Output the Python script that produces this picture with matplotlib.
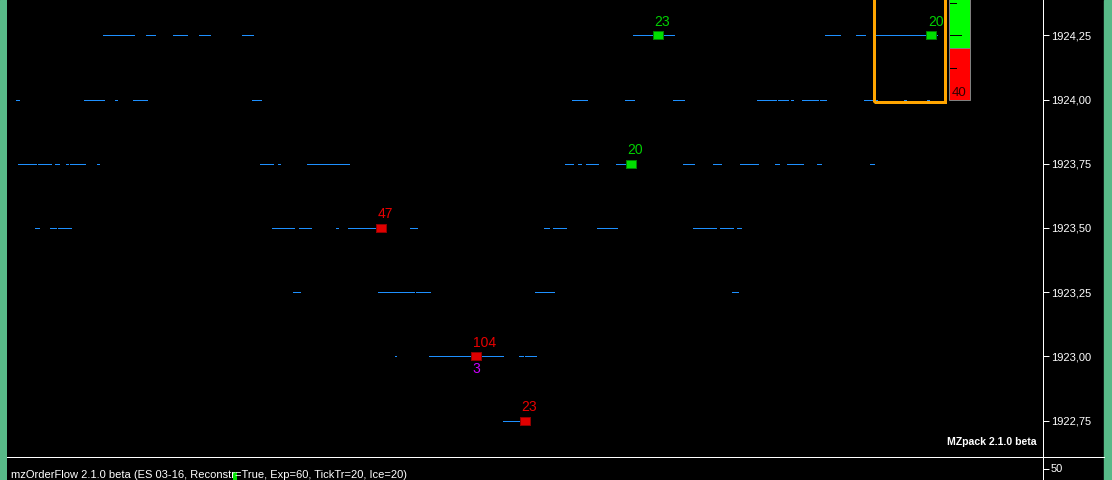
import matplotlib
matplotlib.use("Agg")
import matplotlib.pyplot as plt
from matplotlib import font_manager
from matplotlib.patches import Rectangle
from matplotlib.lines import Line2D

# ---------------- data ----------------
price_ticks = [1924.25, 1924.00, 1923.75, 1923.50, 1923.25, 1923.00, 1922.75]

# horizontal order-book segments (start, end) per price level, x in bar-position units
segs_192425 = [(103, 121), (122, 134), (146, 155), (173, 187), (199, 210), (242, 253),
               (633, 674), (825, 840), (856, 865), (876, 911), (912, 937)]
segs_192400 = [(16, 19), (84, 104), (115, 117), (133, 147), (252, 261), (572, 579),
               (580, 587), (625, 634), (673, 684), (757, 776), (778, 788), (791, 793),
               (802, 818), (820, 826), (864, 877), (904, 906), (927, 929)]
segs_192375 = [(18, 36), (38, 51), (55, 59), (66, 68), (70, 85), (97, 99), (260, 273),
               (278, 280), (307, 309), (310, 336), (337, 349), (565, 573), (578, 581),
               (586, 598), (616, 626), (683, 694), (713, 721), (740, 758), (775, 779),
               (787, 803), (817, 821), (870, 874)]
segs_192350 = [(35, 39), (50, 56), (58, 71), (272, 294), (299, 311), (336, 338),
               (348, 380), (410, 412), (413, 417), (544, 546), (547, 549), (553, 566),
               (597, 617), (693, 716), (720, 733), (737, 741)]
segs_192325 = [(293, 300), (378, 414), (416, 430), (535, 554), (732, 738)]
segs_192300 = [(395, 396), (429, 503), (519, 523), (525, 536)]
segs_192275 = [(503, 526)]
segment_rows = {
    1924.25: segs_192425, 1924.00: segs_192400, 1923.75: segs_192375,
    1923.50: segs_192350, 1923.25: segs_192325, 1923.00: segs_192300,
    1922.75: segs_192275,
}

# large trades: green = buy, red = sell
buy_x = [657.5, 630.5, 931.3]
buy_price = [1924.25, 1923.75, 1924.25]
buy_size = [23, 20, 20]
sell_x = [380.5, 475.5, 524.5]
sell_price = [1923.50, 1923.00, 1922.75]
sell_size = [47, 104, 23]
iceberg_x = [475.5]
iceberg_price = [1923.00]
iceberg_size = [3]

# highlight box and gauge
box_x = (873.5, 944.5)
box_price = (1923.992, 1924.6)
gauge_x = (949.3, 969.7)
gauge_bottom = 1924.00
gauge_split = 1924.203
gauge_top = 1924.6
gauge_marks = [1924.125, 1924.25, 1924.375]
gauge_label = "40"

# lower panel
lower_ticks = [50]
lower_bar_x = [235]
lower_bar_val = [36]

title_text = "mzOrderFlow 2.1.0 beta (ES 03-16, Reconstr=True, Exp=60, TickTr=20, Ice=20)"
brand_text = "MZpack 2.1.0 beta"

# ---------------- fonts ----------------
names = {f.name for f in font_manager.fontManager.ttflist}
base_font = 'Liberation Sans' if 'Liberation Sans' in names else 'DejaVu Sans'
narrow_font = 'Liberation Sans Narrow' if 'Liberation Sans Narrow' in names else base_font
plt.rcParams['font.family'] = [base_font, 'DejaVu Sans']

W, H = 1112, 480
PX = 72.0 / 100.0  # points per pixel


def px_rect(x0, y0, x1, y1):
    return [x0 / W, 1 - y1 / H, (x1 - x0) / W, (y1 - y0) / H]


fig = plt.figure(figsize=(W / 100, H / 100), dpi=100, facecolor='black')

# side borders
border_col = '#58ba88'
fig.add_artist(Rectangle((0, 0), 7 / W, 1, transform=fig.transFigure, color=border_col, zorder=0))
fig.add_artist(Rectangle((1104 / W, 0), 8 / W, 1, transform=fig.transFigure, color=border_col, zorder=0))

ax = fig.add_axes(px_rect(7, 0, 1043, 457))
ax.set_facecolor('black')
ax.set_xlim(7, 1043)
ax.set_ylim(1922.6078, 1924.3883)

blue = '#1e90ff'
for price, segs in segment_rows.items():
    ax.hlines([price] * len(segs), [s[0] for s in segs], [s[1] for s in segs],
              colors=blue, linewidth=1.0 * PX, antialiased=False, zorder=2)

# highlight box
ax.add_patch(Rectangle((box_x[0], box_price[0]), box_x[1] - box_x[0], box_price[1] - box_price[0],
                       fill=False, edgecolor='#ffa500', linewidth=3 * PX, zorder=3))

# gauge
gw = gauge_x[1] - gauge_x[0]
ax.bar([gauge_x[0]], [gauge_split - gauge_bottom], bottom=gauge_bottom, width=gw, align='edge',
       color='#ff0000', edgecolor='#808080', linewidth=1 * PX, zorder=3)
ax.bar([gauge_x[0]], [gauge_top - gauge_split], bottom=gauge_split, width=gw, align='edge',
       color='#00ff00', edgecolor='#808080', linewidth=1 * PX, zorder=3)
for i, m in enumerate(gauge_marks):
    ln = 11 if i == 1 else 6
    ax.hlines(m, gauge_x[0] + 0.7, gauge_x[0] + 0.7 + ln, colors='black', linewidth=1 * PX,
              antialiased=False, zorder=4)
ax.annotate(gauge_label, (gauge_x[0], gauge_bottom), xytext=(2.4 * PX, 6.5 * PX),
            textcoords='offset points', ha='left', va='center', fontsize=9.5,
            family=[narrow_font, 'DejaVu Sans'], color='#300000', zorder=5)

# rectangular marker
rect_marker = [(-0.5, -0.4), (0.5, -0.4), (0.5, 0.4), (-0.5, 0.4), (-0.5, -0.4)]
ax.plot(buy_x, buy_price, linestyle='none', marker=rect_marker, markersize=10.4 * PX,
        markerfacecolor='#00e000', markeredgecolor='#008000', markeredgewidth=1 * PX, zorder=5)
ax.plot(sell_x, sell_price, linestyle='none', marker=rect_marker, markersize=10.4 * PX,
        markerfacecolor='#e00000', markeredgecolor='#900000', markeredgewidth=1 * PX, zorder=5)

lab_font = [narrow_font, 'DejaVu Sans']
for x, p, s in zip(buy_x, buy_price, buy_size):
    ax.annotate(str(s), (x, p), xytext=(-3 * PX, 13.5 * PX), textcoords='offset points',
                ha='left', va='center', color='#00d000', fontsize=10, family=lab_font, zorder=6)
for x, p, s in zip(sell_x, sell_price, sell_size):
    ax.annotate(str(s), (x, p), xytext=(-3 * PX, 13.5 * PX), textcoords='offset points',
                ha='left', va='center', color='#e80000', fontsize=10, family=lab_font, zorder=6)
for x, p, s in zip(iceberg_x, iceberg_price, iceberg_size):
    ax.annotate(str(s), (x, p), xytext=(-3 * PX, -13 * PX), textcoords='offset points',
                ha='left', va='center', color='#cc00ff', fontsize=10, family=lab_font, zorder=6)

# brand text
ax.annotate(brand_text, (1, 0), xycoords='axes fraction', xytext=(-6.5 * PX, 15.3 * PX),
            textcoords='offset points', ha='right', va='center', color='white',
            fontsize=7.6, fontweight='bold')

# axis styling
for side in ['top', 'left', 'bottom']:
    ax.spines[side].set_visible(False)
ax.spines['right'].set_color('white')
ax.spines['right'].set_linewidth(1 * PX)
ax.set_xticks([])
ax.yaxis.tick_right()
ax.set_yticks(price_ticks)
ax.set_yticklabels([f"{t:.2f}".replace('.', ',') for t in price_ticks])
ax.tick_params(axis='y', colors='white', length=6 * PX, width=1 * PX, pad=2 * PX,
               labelsize=8, labelcolor='white')

# lower panel
ax2 = fig.add_axes(px_rect(7, 457, 1043, 480))
ax2.set_facecolor('black')
ax2.set_xlim(7, 1043)
ax2.set_ylim(0, 100)
ax2.bar(lower_bar_x, lower_bar_val, width=4, color='#00e000', zorder=1)
for side in ['top', 'left', 'bottom']:
    ax2.spines[side].set_visible(False)
ax2.spines['right'].set_color('white')
ax2.spines['right'].set_linewidth(1 * PX)
ax2.set_xticks([])
ax2.yaxis.tick_right()
ax2.set_yticks(lower_ticks)
ax2.set_yticklabels([str(t) for t in lower_ticks])
ax2.tick_params(axis='y', colors='white', length=6 * PX, width=1 * PX, pad=2 * PX,
                labelsize=8, labelcolor='white')
ax2.text(11, 0, title_text, transform=ax2.transData, ha='left', va='bottom',
         color='white', fontsize=8, zorder=3)

# separator line across panel
fig.add_artist(Line2D([7 / W, 1104 / W], [1 - 457 / H, 1 - 457 / H], color='white',
                      linewidth=1 * PX, transform=fig.transFigure))

fig.savefig('out.png', dpi=100, facecolor='black')
